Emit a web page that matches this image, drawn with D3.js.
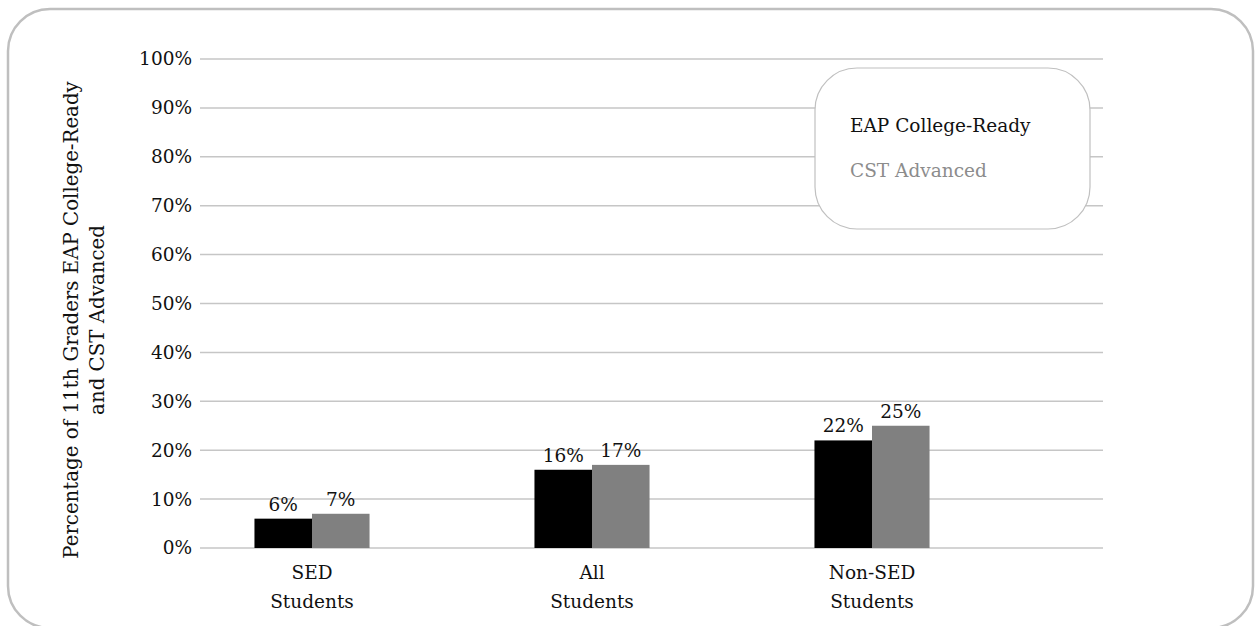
<!DOCTYPE html>
<html>
<head>
<meta charset="utf-8">
<script src="https://cdn.jsdelivr.net/npm/d3@7"></script>
<style>
  html, body { margin: 0; padding: 0; background: #fff; }
  svg { display: block; }
  text { font-family: "DejaVu Serif", "Liberation Serif", serif; }
</style>
</head>
<body>
<svg id="chart" width="1255" height="626"></svg>
<script>
// Student groups along the x axis (two-line labels)
const categories = ["SED\nStudents", "All\nStudents", "Non-SED\nStudents"];
// Series names
const seriesNames = ["EAP College-Ready", "CST Advanced"];
// Share of 11th graders, per group
const eapCollegeReady = [0.06, 0.16, 0.22];
const cstAdvanced = [0.07, 0.17, 0.25];
// Y axis ticks
const yTicks = [0, 0.1, 0.2, 0.3, 0.4, 0.5, 0.6, 0.7, 0.8, 0.9, 1.0];

const seriesColors = ["#000000", "#808080"];
const seriesValues = [eapCollegeReady, cstAdvanced];

const FONT = "'DejaVu Serif', 'Liberation Serif', serif";
const FS = 18.5;

const svg = d3.select("#chart");

// Outer rounded frame
svg.append("rect")
  .attr("x", 8).attr("y", 9)
  .attr("width", 1245).attr("height", 619)
  .attr("rx", 42).attr("ry", 42)
  .attr("fill", "#fff")
  .attr("stroke", "#bfbfbf")
  .attr("stroke-width", 2.5);

const plot = { left: 200, right: 1103, top: 59, bottom: 548 };

const y = d3.scaleLinear().domain([0, 1]).range([plot.bottom, plot.top]);

const x0 = d3.scaleBand()
  .domain(categories)
  .range([172, 1012])
  .paddingInner(0.589)
  .paddingOuter(0.2945);

const x1 = d3.scaleBand()
  .domain(seriesNames)
  .range([0, x0.bandwidth()]);

// Horizontal gridlines
svg.append("g")
  .selectAll("line")
  .data(yTicks)
  .join("line")
  .attr("x1", plot.left).attr("x2", plot.right)
  .attr("y1", d => y(d)).attr("y2", d => y(d))
  .attr("stroke", "#c6c6c6")
  .attr("stroke-width", 1.5);

// Y axis tick labels
const yAxis = d3.axisLeft(y)
  .tickValues(yTicks)
  .tickFormat(d3.format(".0%"))
  .tickSize(0)
  .tickPadding(8);

const yg = svg.append("g")
  .attr("transform", `translate(${plot.left},0)`)
  .call(yAxis);
yg.select(".domain").remove();
yg.selectAll("text")
  .attr("font-size", FS)
  .attr("fill", "#111")
  .style("font-family", FONT);

// Y axis title (two lines, rotated)
const yTitle = svg.append("text")
  .attr("transform", "translate(0,320) rotate(-90)")
  .attr("text-anchor", "middle")
  .attr("font-size", 19.8)
  .attr("fill", "#111");
yTitle.append("tspan").attr("x", 0).attr("y", 78)
  .text("Percentage of 11th Graders EAP College-Ready");
yTitle.append("tspan").attr("x", 0).attr("y", 104)
  .text("and CST Advanced");

// Bars
const groups = svg.append("g")
  .selectAll("g")
  .data(categories)
  .join("g")
  .attr("transform", d => `translate(${x0(d)},0)`);

groups.selectAll("rect")
  .data((c, i) => seriesNames.map((s, j) => ({ s, j, v: seriesValues[j][i] })))
  .join("rect")
  .attr("x", d => x1(d.s))
  .attr("width", x1.bandwidth())
  .attr("y", d => y(d.v))
  .attr("height", d => y(0) - y(d.v))
  .attr("fill", d => seriesColors[d.j]);

// Value labels
groups.selectAll("text.val")
  .data((c, i) => seriesNames.map((s, j) => ({ s, j, v: seriesValues[j][i] })))
  .join("text")
  .attr("class", "val")
  .attr("x", d => x1(d.s) + x1.bandwidth() / 2)
  .attr("y", d => y(d.v) - 8)
  .attr("text-anchor", "middle")
  .attr("font-size", FS)
  .attr("fill", "#111")
  .text(d => d3.format(".0%")(d.v));

// Category labels
const xLabels = svg.append("g")
  .selectAll("text")
  .data(categories)
  .join("text")
  .attr("text-anchor", "middle")
  .attr("font-size", FS)
  .attr("fill", "#111");
xLabels.each(function (d) {
  const lines = d.split("\n");
  const t = d3.select(this);
  const cx = x0(d) + x0.bandwidth() / 2;
  lines.forEach((ln, k) => {
    t.append("tspan").attr("x", cx).attr("y", 579 + k * 29).text(ln);
  });
});

// Legend
const legend = svg.append("g");
legend.append("rect")
  .attr("x", 815).attr("y", 68)
  .attr("width", 275).attr("height", 161)
  .attr("rx", 42).attr("ry", 42)
  .attr("fill", "#fff")
  .attr("stroke", "#c0c0c0")
  .attr("stroke-width", 1.2);
legend.selectAll("text")
  .data(seriesNames)
  .join("text")
  .attr("x", 850)
  .attr("y", (d, i) => 132 + i * 45)
  .attr("font-size", FS)
  .attr("fill", (d, i) => i === 0 ? "#111" : "#8c8c8c")
  .text(d => d);
</script>
</body>
</html>
